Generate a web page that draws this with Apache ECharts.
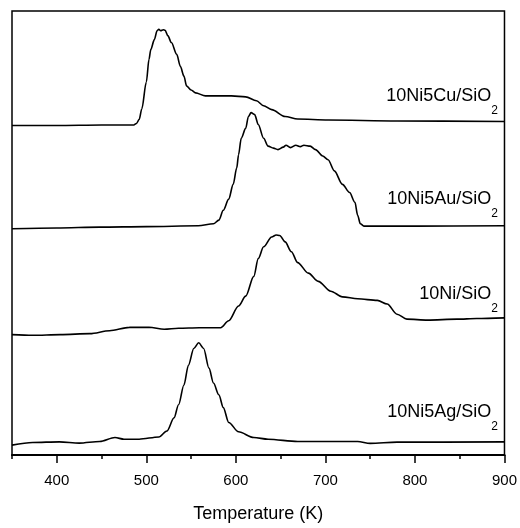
<!DOCTYPE html>
<html>
<head>
<meta charset="utf-8">
<script src="https://cdn.jsdelivr.net/npm/echarts@6/dist/echarts.min.js"></script>
<style>html,body{margin:0;padding:0;background:#fff}#c{width:520px;height:528px}</style>
</head>
<body>
<div id="c"></div>
<script>
// Tick values
var minorTicks = [350, 450, 550, 650, 750, 850];
var majorTicks = [400, 500, 600, 700, 800, 900];

// Series names
var names = ['10Ni5Cu/SiO', '10Ni5Au/SiO', '10Ni/SiO', '10Ni5Ag/SiO'];
// Vertical stacking offsets (arbitrary intensity units)
var offsets = [334, 231, 122, 11];

// 10Ni5Cu/SiO2
var cuT = [350, 400, 450, 486, 489, 492, 495, 500, 503, 505, 509, 512, 514, 516, 519, 521, 524, 528, 534, 538, 542, 545, 550, 555, 566, 581, 595, 611, 623, 631, 640, 655, 669, 703, 780, 900];
var cuI = [0, 0, 0.5, 0.5, 2, 6, 17, 44, 67, 77, 87, 96, 97.5, 96, 97, 96.5, 91, 84, 72, 60, 50, 40, 36, 33, 30, 30, 30, 29, 25, 20, 16, 9, 6.5, 5.5, 4.5, 4];

// 10Ni5Au/SiO2
var auT = [350, 400, 448, 500, 558, 575, 581, 586, 592, 597, 601, 603, 606, 611, 614, 617, 621, 625, 631, 636, 642, 647, 653, 656, 661, 667, 672, 676, 683, 689, 697, 703, 710, 719, 727, 733, 736, 739, 743, 800, 900];
var auI = [-1.7, -1, 0, 0.5, 1.3, 3.3, 7, 17, 28.3, 43.3, 60, 73.3, 90, 100, 112, 116, 114, 104, 90, 82, 80, 78.5, 81, 83, 80.5, 83, 81.5, 83, 82, 78.5, 72, 68.3, 57, 43.3, 35, 25, 12, 3.3, 1, 1, 1.3];

// 10Ni/SiO2
var niT = [350, 373, 404, 437, 459, 481, 503, 520, 536, 559, 583, 592, 603, 611, 620, 625, 631, 640, 645, 649, 655, 662, 669, 681, 692, 706, 719, 736, 758, 769, 780, 791, 814, 847, 869, 900];
var niI = [0, -0.7, 0, 1, 4, 7.3, 7.5, 5.5, 6.5, 7, 7, 14, 29, 39, 59, 77, 89, 99, 101, 100.5, 94, 84, 73, 62.3, 54, 44, 38.3, 36.3, 34.7, 31, 20.7, 15.7, 14.7, 15.7, 16.3, 17];

// 10Ni5Ag/SiO2
var agT = [350, 373, 403, 425, 448, 465, 475, 492, 514, 523, 531, 536, 542, 547, 553, 558.5, 564, 570, 575, 581, 586, 592, 603, 620, 636, 669, 736, 750, 780, 900];
var agI = [-1, 1.7, 2.3, 1, 2.7, 6.7, 5, 5, 7.3, 13.3, 26.7, 40, 60, 80, 97, 102.7, 97, 77, 62, 50, 37, 22, 12.5, 6.7, 5, 2.7, 2.7, 0.8, 2, 2.3];

var temps = [cuT, auT, niT, agT];
var intens = [cuI, auI, niI, agI];

var labelFont = '"Liberation Sans", Arial, sans-serif';
var labelTops = [87, 190, 285, 403];

var series = names.map(function (n, k) {
  return {
    name: n + '2',
    type: 'line',
    xAxisIndex: 0,
    showSymbol: false,
    smooth: 0.3,
    smoothMonotone: 'x',
    lineStyle: { color: '#000', width: 1.6 },
    data: temps[k].map(function (t, i) { return [t, offsets[k] + intens[k][i]]; })
  };
});

var graphics = names.map(function (n, k) {
  return {
    type: 'text',
    right: 22,
    top: labelTops[k],
    style: {
      text: '{a|' + n + '}{b|2}',
      rich: {
        a: { fontSize: 18, lineHeight: 42, fontFamily: labelFont, fill: '#000', verticalAlign: 'middle' },
        b: { fontSize: 12, lineHeight: 12, fontFamily: labelFont, fill: '#000', verticalAlign: 'bottom' }
      }
    }
  };
});

var chart = echarts.init(document.getElementById('c'));
chart.setOption({
  animation: false,
  backgroundColor: '#fff',
  grid: { left: 12, right: 12, top: 11, bottom: 67, show: true, borderColor: '#000', borderWidth: 1.5, backgroundColor: 'transparent' },
  xAxis: [
    {
      type: 'value', min: 350, max: 900, position: 'bottom',
      axisLine: { show: true, lineStyle: { color: '#000', width: 2 } },
      axisTick: { show: true, customValues: minorTicks, length: 4, lineStyle: { color: '#000', width: 1.5 } },
      axisLabel: { show: false },
      splitLine: { show: false }
    },
    {
      type: 'value', min: 350, max: 900, position: 'bottom',
      axisLine: { show: false },
      axisTick: { show: true, customValues: majorTicks, length: 8, lineStyle: { color: '#000', width: 1.5 } },
      axisLabel: { show: true, customValues: majorTicks, fontSize: 15, fontFamily: labelFont, color: '#000', margin: 18 },
      splitLine: { show: false },
      name: 'Temperature (K)', nameLocation: 'middle', nameGap: 50,
      nameTextStyle: { fontSize: 18, fontFamily: labelFont, color: '#000' }
    }
  ],
  yAxis: { type: 'value', min: 0, max: 450, show: false },
  graphic: graphics,
  series: series
});
</script>
</body>
</html>
